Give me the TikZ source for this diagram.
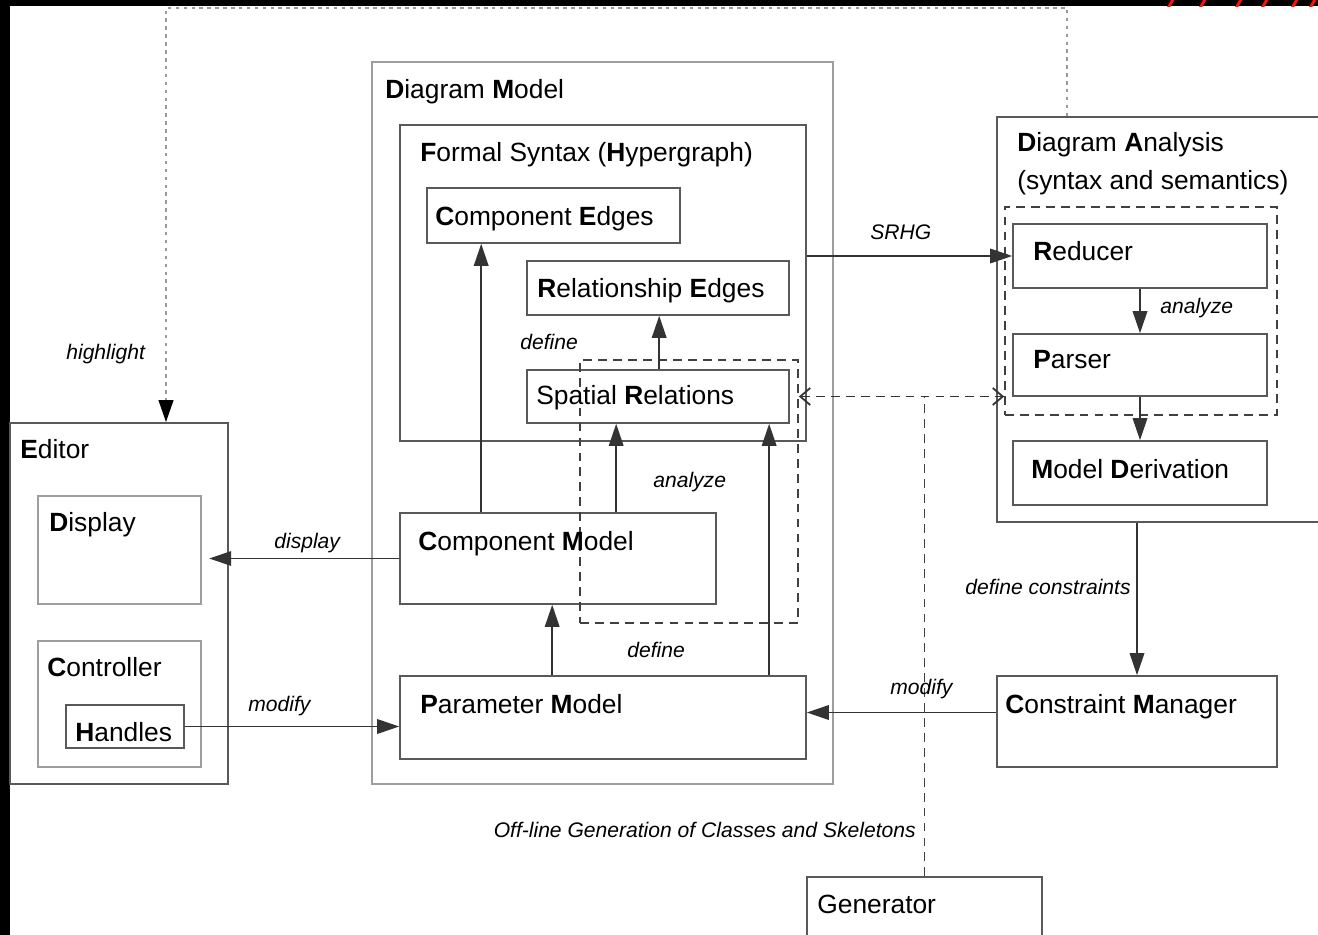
\documentclass[tikz,border=0pt]{standalone}
\usepackage{fontspec}
\setmainfont{Liberation Sans}
\usetikzlibrary{positioning,arrows.meta,fit,calc}
\newcommand{\ini}[1]{\textbf{#1}}
\tikzset{
  plainbox/.style={draw=black!65, line width=0.9pt, inner sep=0pt},
  palebox/.style={draw=black!38, line width=1.4pt, inner sep=0pt},
  groupbox/.style={draw=black!75, line width=1pt, dash pattern=on 5pt off 3.5pt, inner sep=0pt},
  boxtitle/.style={anchor=base west, inner sep=0pt, font=\fontsize{15}{18}\selectfont},
  edgelabel/.style={anchor=base west, inner sep=0pt, font=\fontsize{12}{14}\selectfont\itshape},
  flowarrow/.style={-{Triangle[length=4.4mm,width=2.9mm]}, line width=1pt, black!80},
  hlline/.style={-{Triangle[length=4.4mm,width=2.9mm,black]}, line width=1.3pt, black!40, dash pattern=on 2pt off 2.5pt},
  linkarrow/.style={{Straight Barb[length=2mm,width=3.4mm]}-{Straight Barb[length=2mm,width=3.4mm]}, line width=1pt, black!80, dash pattern=on 5pt off 3.5pt},
  genline/.style={line width=1pt, black!75, dash pattern=on 5pt off 3.5pt}
}

\begin{document}
\begin{tikzpicture}[x=0.02cm, y=-0.02cm]
  \useasboundingbox (0,0) rectangle (1318,935);
  \clip (0,0) rectangle (1318,935);
  % screenshot frame
  \fill[black] (0,0) rectangle (1318,6.5);
  \fill[black] (0,0) rectangle (10,935);
  \begin{scope}
    \clip (1160,0) rectangle (1318,6.5);
    \foreach \xa in {1168,1200,1236,1262,1292,1310}
      \draw[red!85!orange, line width=1.6pt] (\xa,8) -- ++(6,-10);
  \end{scope}

  % editor
  \node[plainbox, fit={(10,423)(228,784)}] (editor) {};
  \node[palebox, fit={(38,496)(201,604)}] (display) {};
  \node[palebox, fit={(38,641)(201,767)}] (controller) {};
  \node[plainbox, fit={(66,705)(184,748)}] (handles) {};
  \node[boxtitle] (editor-t) at (20,459) {\ini{E}ditor};
  \node[boxtitle] (display-t) at (49,531) {\ini{D}isplay};
  \node[boxtitle] (controller-t) at (47,676) {\ini{C}ontroller};
  \node[boxtitle] (handles-t) at (75,741) {\ini{H}andles};

  % diagram model
  \node[palebox, fit={(372,62)(833,784)}] (dmodel) {};
  \node[plainbox, fit={(400,125)(806,441)}] (fsyntax) {};
  \node[plainbox, fit={(427,188)(680,243)}] (cedges) {};
  \node[plainbox, fit={(527,261)(789,315)}] (redges) {};
  \node[plainbox, fit={(527,370)(789,423)}] (spatial) {};
  \node[plainbox, fit={(400,513)(716,604)}] (cmodel) {};
  \node[plainbox, fit={(400,676)(806,759)}] (pmodel) {};
  \node[groupbox, fit={(580,360)(798,623)}] (relgroup) {};
  \node[boxtitle] (dmodel-t) at (385,99) {\ini{D}iagram \ini{M}odel};
  \node[boxtitle] (fsyntax-t) at (420,162) {\ini{F}ormal Syntax (\ini{H}ypergraph)};
  \node[boxtitle] (cedges-t) at (435,226) {\ini{C}omponent \ini{E}dges};
  \node[boxtitle] (redges-t) at (537,298) {\ini{R}elationship \ini{E}dges};
  \node[boxtitle] (spatial-t) at (536,405) {Spatial \ini{R}elations};
  \node[boxtitle] (cmodel-t) at (418,550) {\ini{C}omponent \ini{M}odel};
  \node[boxtitle] (pmodel-t) at (420,713) {\ini{P}arameter \ini{M}odel};

  % diagram analysis
  \node[plainbox, fit={(997,117)(1330,522)}] (danalysis) {};
  \node[groupbox, fit={(1005,207)(1277,415)}] (parsegroup) {};
  \node[plainbox, fit={(1013,224)(1267,288)}] (reducer) {};
  \node[plainbox, fit={(1013,334)(1267,396)}] (parser) {};
  \node[plainbox, fit={(1013,441)(1267,505)}] (derivation) {};
  \node[plainbox, fit={(997,676)(1277,767)}] (cmanager) {};
  \node[plainbox, fit={(807,877)(1042,960)}] (generator) {};
  \node[boxtitle] (danalysis-t) at (1017,152) {\ini{D}iagram \ini{A}nalysis};
  \node[boxtitle] (danalysis-s) at (1017,190) {(syntax and semantics)};
  \node[boxtitle] (reducer-t) at (1033,261) {\ini{R}educer};
  \node[boxtitle] (parser-t) at (1033,369) {\ini{P}arser};
  \node[boxtitle] (derivation-t) at (1031,479) {\ini{M}odel \ini{D}erivation};
  \node[boxtitle] (cmanager-t) at (1005,713) {\ini{C}onstraint \ini{M}anager};
  \node[boxtitle] (generator-t) at (817,913) {Generator};

  % connectors
  \coordinate (hltop) at (166,8);
  \draw[hlline] ([xshift=1.42cm]danalysis.north west) |- (hltop) -- (hltop |- editor.north);
  \draw[flowarrow] ([xshift=1.64cm]cmodel.north west) -- ([xshift=1.64cm]cmodel.north west |- cedges.south);
  \draw[flowarrow] ([xshift=4.34cm]cmodel.north west) -- ([xshift=4.34cm]cmodel.north west |- spatial.south);
  \draw[flowarrow] ([xshift=2.66cm]spatial.north west) -- ([xshift=2.66cm]spatial.north west |- redges.south);
  \draw[flowarrow] ([xshift=7.4cm]pmodel.north west) -- ([xshift=7.4cm]pmodel.north west |- spatial.south);
  \draw[flowarrow] ([xshift=3.06cm]pmodel.north west) -- ([xshift=3.06cm]pmodel.north west |- cmodel.south);
  \draw[flowarrow] (cmodel.west) -- ([xshift=0.14cm]display.east |- cmodel.west);
  \draw[flowarrow] (handles.east) -- (handles.east -| pmodel.west);
  \draw[flowarrow] ([yshift=0.18cm]cmanager.west) -- ([yshift=0.18cm]cmanager.west -| pmodel.east);
  \draw[flowarrow] (reducer.west -| fsyntax.east) -- (reducer.west);
  \draw[flowarrow] (reducer.south) -- (parser.north);
  \draw[flowarrow] (parser.south) -- (derivation.north);
  \draw[flowarrow] (cmanager.north |- danalysis.south) -- (cmanager.north);
  \draw[linkarrow] (relgroup.east |- spatial.east) -- (parsegroup.west |- spatial.east);
  \draw[genline] (generator.north) -- (generator.north |- spatial.east);

  % connector labels
  \node[edgelabel] (highlight-l) at (66,360) {highlight};
  \node[edgelabel] (define-a) at (520,350) {define};
  \node[edgelabel] (analyze-a) at (653,487) {analyze};
  \node[edgelabel] (display-l) at (274,548) {display};
  \node[edgelabel] (define-b) at (627,657) {define};
  \node[edgelabel] (modify-a) at (248,711) {modify};
  \node[edgelabel] (modify-b) at (890,694) {modify};
  \node[edgelabel] (srhg-l) at (870,240) {SRHG};
  \node[edgelabel] (analyze-b) at (1160,314) {analyze};
  \node[edgelabel] (constraints-l) at (965,594) {define constraints};
  \node[edgelabel, anchor=base east] (offline-l) at (916,837) {Off-line Generation of Classes and Skeletons};
\end{tikzpicture}
\end{document}
